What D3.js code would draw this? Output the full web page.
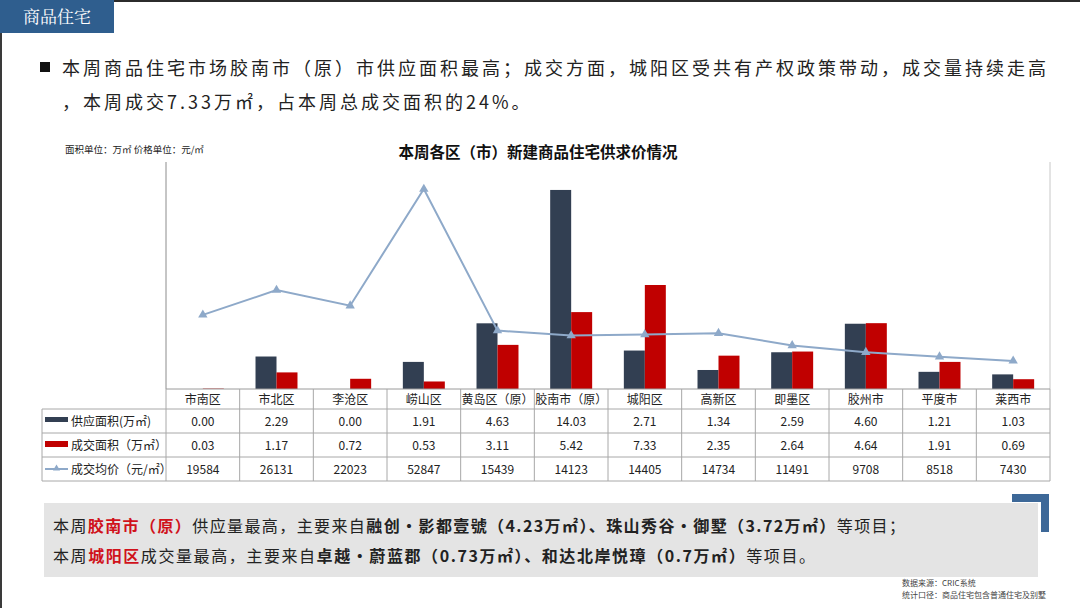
<!DOCTYPE html>
<html><head><meta charset="utf-8">
<script src="https://cdn.jsdelivr.net/npm/d3@7"></script>
<style>
html,body{margin:0;padding:0;background:#fff;}
svg{display:block;font-family:"Noto Sans CJK SC","Noto Sans",sans-serif;}
</style></head>
<body><svg id="c" width="1080" height="608"></svg>
<script>
const categories = ['市南区','市北区','李沧区','崂山区','黄岛区（原）','胶南市（原）','城阳区','高新区','即墨区','胶州市','平度市','莱西市'];
const supplyArea = [0.00,2.29,0.00,1.91,4.63,14.03,2.71,1.34,2.59,4.60,1.21,1.03];
const dealArea = [0.03,1.17,0.72,0.53,3.11,5.42,7.33,2.35,2.64,4.64,1.91,0.69];
const avgPrice = [19584,26131,22023,52847,15439,14123,14405,14734,11491,9708,8518,7430];
const seriesNames = ['供应面积(万㎡)','成交面积（万㎡）','成交均价（元/㎡）'];
const areaDomain = [0,16];
const priceDomain = [0,60000];

const svg = d3.select('#c');
const C_SUP = '#323F52', C_DEAL = '#C00000', C_LINE = '#8EA9C9';

// frame lines
svg.append('rect').attr('x',0).attr('y',0).attr('width',1080).attr('height',2).attr('fill','#2b2b2b');
svg.append('rect').attr('x',0).attr('y',0).attr('width',2).attr('height',608).attr('fill','#3a3a3a');
// header box
svg.append('rect').attr('x',0).attr('y',0).attr('width',114).attr('height',33).attr('fill','#2F5E8E');
svg.append('text').attr('x',57).attr('y',23).attr('text-anchor','middle').attr('fill','#fff')
  .attr('font-size',17).attr('font-family','"Noto Serif CJK SC","Noto Sans CJK SC",serif').text('商品住宅');

// bullet text
svg.append('rect').attr('x',40).attr('y',62).attr('width',10).attr('height',10).attr('fill','#111');
svg.append('text').attr('x',62).attr('y',75).attr('font-size',18).attr('fill','#222')
  .attr('letter-spacing',3)
  .text('本周商品住宅市场胶南市（原）市供应面积最高；成交方面，城阳区受共有产权政策带动，成交量持续走高');
svg.append('text').attr('x',62).attr('y',109).attr('font-size',18).attr('fill','#222')
  .attr('letter-spacing',3)
  .text('，本周成交7.33万㎡，占本周总成交面积的24%。');

// chart titles
svg.append('text').attr('x',65).attr('y',153).attr('font-size',9.5).attr('fill','#222')
  .text('面积单位：万㎡ 价格单位：元/㎡');
svg.append('text').attr('x',538).attr('y',158).attr('text-anchor','middle').attr('font-size',15.5)
  .attr('font-weight','bold').attr('fill','#111').text('本周各区（市）新建商品住宅供求价情况');

// scales
const plotL = 166, plotR = 1050, plotT = 162, plotB = 389;
const x = d3.scaleBand().domain(categories).range([plotL, plotR]).padding(0);
const x1 = d3.scaleBand().domain(['s','d']).range([0, x.bandwidth()]).paddingInner(0).paddingOuter(0.755);
const yA = d3.scaleLinear().domain(areaDomain).range([plotB, plotT]);
const yP = d3.scaleLinear().domain(priceDomain).range([plotB, plotT]);

// axis lines
svg.append('line').attr('x1',plotL).attr('x2',plotL).attr('y1',plotT).attr('y2',plotB).attr('stroke','#8c8c8c');
svg.append('line').attr('x1',plotR).attr('x2',plotR).attr('y1',plotT).attr('y2',plotB).attr('stroke','#c8c8c8');

// bars
const g = svg.append('g');
g.selectAll('.s').data(categories).join('rect')
  .attr('x',(d)=>x(d)+x1('s')).attr('width',x1.bandwidth())
  .attr('y',(d,i)=>yA(supplyArea[i])).attr('height',(d,i)=>plotB-yA(supplyArea[i]))
  .attr('fill',C_SUP);
g.selectAll('.d').data(categories).join('rect')
  .attr('x',(d)=>x(d)+x1('d')).attr('width',x1.bandwidth())
  .attr('y',(d,i)=>yA(dealArea[i])).attr('height',(d,i)=>plotB-yA(dealArea[i]))
  .attr('fill',C_DEAL);

// line
const line = d3.line().x((d,i)=>x(categories[i])+x.bandwidth()/2).y(d=>yP(d));
svg.append('path').datum(avgPrice).attr('d',line).attr('fill','none').attr('stroke',C_LINE).attr('stroke-width',2);
const tri = d3.symbol().type(d3.symbolTriangle).size(38);
svg.selectAll('.m').data(avgPrice).join('path')
  .attr('transform',(d,i)=>`translate(${x(categories[i])+x.bandwidth()/2},${yP(d)})`)
  .attr('d',tri).attr('fill',C_LINE);

// table
const rowY = [plotB, 409, 433, 457, 481];
const tableL = 42;
const gridC = '#a8a8a8';
svg.append('line').attr('x1',plotL).attr('x2',plotR).attr('y1',plotB).attr('y2',plotB).attr('stroke','#9a9a9a');
for (let r=1;r<rowY.length;r++){
  svg.append('line').attr('x1',tableL).attr('x2',plotR).attr('y1',rowY[r]).attr('y2',rowY[r]).attr('stroke',gridC);
}
svg.append('line').attr('x1',tableL).attr('x2',tableL).attr('y1',rowY[1]).attr('y2',rowY[4]).attr('stroke',gridC);
categories.forEach((c)=>{
  svg.append('line').attr('x1',x(c)).attr('x2',x(c)).attr('y1',plotB).attr('y2',rowY[4]).attr('stroke',gridC);
});
svg.append('line').attr('x1',plotR).attr('x2',plotR).attr('y1',plotB).attr('y2',rowY[4]).attr('stroke',gridC);

const cellText = (cx, cy, t) => svg.append('text').attr('x',cx).attr('y',cy).attr('text-anchor','middle')
  .attr('font-size',12).attr('fill','#222').text(t);
categories.forEach((c,i)=>{
  const cx = x(c)+x.bandwidth()/2;
  cellText(cx, rowY[0]+15, c);
  cellText(cx, rowY[1]+16.5, supplyArea[i].toFixed(2));
  cellText(cx, rowY[2]+16.5, dealArea[i].toFixed(2));
  cellText(cx, rowY[3]+16.5, String(avgPrice[i]));
});
// legend cells
svg.append('rect').attr('x',45).attr('y',417).attr('width',23).attr('height',5).attr('fill',C_SUP);
svg.append('rect').attr('x',45).attr('y',441).attr('width',23).attr('height',6).attr('fill',C_DEAL);
svg.append('line').attr('x1',45).attr('x2',68).attr('y1',469).attr('y2',469).attr('stroke',C_LINE).attr('stroke-width',2);
svg.append('path').attr('transform','translate(56.5,468.5)').attr('d',d3.symbol().type(d3.symbolTriangle).size(22)).attr('fill',C_LINE);
seriesNames.forEach((n,i)=>{
  svg.append('text').attr('x',71).attr('y',rowY[i+1]+16.5).attr('font-size',12).attr('fill','#222').text(n);
});

// bottom note box
svg.append('rect').attr('x',44).attr('y',503).attr('width',994).attr('height',74).attr('fill','#E4E4E4');
svg.append('path').attr('d','M1012,494 H1049 V532 H1041 V502 H1012 Z').attr('fill','#3D6898');
const note1 = [
  ['本周','n'],['胶南市（原）','r'],['供应量最高，主要来自','n'],['融创·影都壹號（4.23万㎡）、珠山秀谷·御墅（3.72万㎡）','b'],['等项目；','n']
];
const note2 = [
  ['本周','n'],['城阳区','r'],['成交量最高，主要来自','n'],['卓越·蔚蓝郡（0.73万㎡）、和达北岸悦璋（0.7万㎡）','b'],['等项目。','n']
];
function note(parts, y, len){
  const t = svg.append('text').attr('x',53).attr('y',y).attr('font-size',16).attr('fill','#222')
    .attr('textLength',len).attr('lengthAdjust','spacing');
  parts.forEach(([s,k])=>{
    const sp = t.append('tspan').text(s);
    if (k==='r') sp.attr('fill','#D0121B').attr('font-weight','bold');
    if (k==='b') sp.attr('font-weight','bold');
  });
}
note(note1, 532, 852);
note(note2, 562, 762);

// footer
svg.append('text').attr('x',902).attr('y',586).attr('font-size',8).attr('fill','#444').text('数据来源：CRIC系统');
svg.append('text').attr('x',902).attr('y',598).attr('font-size',8).attr('fill','#444').text('统计口径：商品住宅包含普通住宅及别墅');
</script></body></html>
